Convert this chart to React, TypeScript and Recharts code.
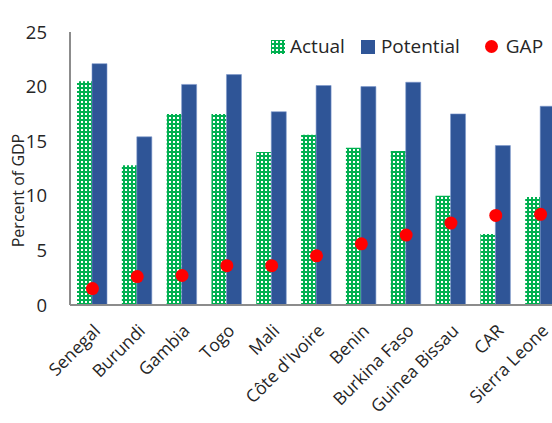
import React from 'react';
import { ComposedChart, Bar, Line, XAxis, YAxis } from 'recharts';

// Revenue collection: actual vs potential, in percent of GDP
const countries = [
  'Senegal', 'Burundi', 'Gambia', 'Togo', 'Mali', "Côte d'Ivoire",
  'Benin', 'Burkina Faso', 'Guinea Bissau', 'CAR', 'Sierra Leone',
];
const actual = [20.5, 12.8, 17.5, 17.5, 14.0, 15.6, 14.4, 14.1, 10.0, 6.5, 9.9];
const potential = [22.1, 15.4, 20.2, 21.1, 17.7, 20.1, 20.0, 20.4, 17.5, 14.6, 18.2];
const gap = [1.5, 2.6, 2.7, 3.6, 3.6, 4.5, 5.6, 6.4, 7.5, 8.2, 8.3];
const yTicks = [0, 5, 10, 15, 20, 25];

const data = countries.map((name, i) => ({
  name,
  Actual: actual[i],
  Potential: potential[i],
  GAP: gap[i],
}));

const FONT = '"Open Sans", "Noto Sans", sans-serif';
const TEXT = '#262626';
const GREEN = '#00B050';
const BLUE = '#2F5597';
const RED = '#FF0000';
const AXIS = '#8c8c8c';

const CountryTick = (props: any) => {
  const { x, y, payload } = props;
  return (
    <g transform={`translate(${x},${y})`}>
      <text
        textAnchor="end"
        transform="rotate(-45)"
        dy="0.72em"
        fill={TEXT}
        fontSize={17.5}
        fontFamily={FONT}
      >
        {payload.value}
      </text>
    </g>
  );
};

const YTitle = (props: any) => {
  const { viewBox } = props;
  const cx = 18;
  const cy = viewBox.y + viewBox.height / 2 + 22;
  return (
    <text
      x={cx}
      y={cy}
      transform={`rotate(-90, ${cx}, ${cy})`}
      textAnchor="middle"
      dominantBaseline="central"
      fill={TEXT}
      fontSize={16}
      fontFamily={FONT}
    >
      Percent of GDP
    </text>
  );
};

const DotPatternSwatch = () => (
  <svg width={14} height={14} style={{ display: 'block' }}>
    <defs>
      <pattern id="actualDotsLegend" width={4} height={4} patternUnits="userSpaceOnUse">
        <rect width={4} height={4} fill={GREEN} />
        <rect x={1} y={1} width={2} height={2} fill="#fff" />
      </pattern>
    </defs>
    <rect width={14} height={14} fill="url(#actualDotsLegend)" />
  </svg>
);

const LegendBox = () => (
  <div
    style={{
      position: 'absolute',
      left: 271,
      top: 37,
      display: 'flex',
      alignItems: 'center',
      fontFamily: FONT,
      fontSize: 19,
      color: TEXT,
      lineHeight: 1,
      whiteSpace: 'nowrap',
    }}
  >
    <DotPatternSwatch />
    <span style={{ marginLeft: 5, marginRight: 16 }}>Actual</span>
    <span style={{ width: 14, height: 14, background: BLUE, display: 'block' }} />
    <span style={{ marginLeft: 6, marginRight: 25 }}>Potential</span>
    <span
      style={{ width: 13, height: 13, borderRadius: '50%', background: RED, display: 'block' }}
    />
    <span style={{ marginLeft: 8 }}>GAP</span>
  </div>
);

export default function App() {
  return (
    <div
      style={{
        position: 'absolute',
        left: 0,
        top: 0,
        width: 552,
        height: 423,
        overflow: 'hidden',
        background: '#fff',
      }}
    >
      <ComposedChart
        width={600}
        height={423}
        data={data}
        margin={{ top: 32, right: 37, bottom: 0, left: 0 }}
        barGap={0}
      >
        <defs>
          <pattern id="actualDots" width={4} height={4} patternUnits="userSpaceOnUse">
            <rect width={4} height={4} fill={GREEN} />
            <rect x={1} y={1} width={2} height={2} fill="#fff" />
          </pattern>
        </defs>
        <XAxis
          dataKey="name"
          interval={0}
          height={118}
          tickLine={false}
          tickSize={0}
          tickMargin={18}
          axisLine={{ stroke: AXIS, strokeWidth: 2 }}
          tick={<CountryTick />}
        />
        <YAxis
          width={70}
          domain={[0, 25]}
          ticks={yTicks}
          interval={0}
          tickLine={false}
          tickSize={0}
          tickMargin={23}
          axisLine={{ stroke: AXIS, strokeWidth: 2 }}
          tick={{ fill: TEXT, fontSize: 18.5, fontFamily: FONT }}
          label={<YTitle />}
        />
        <Bar
          dataKey="Actual"
          fill="url(#actualDots)"
          barSize={15}
          isAnimationActive={false}
        />
        <Bar
          dataKey="Potential"
          fill={BLUE}
          stroke="#7d98cc"
          strokeWidth={0.6}
          barSize={15}
          isAnimationActive={false}
        />
        <Line
          dataKey="GAP"
          stroke="none"
          dot={{ r: 6.5, fill: RED, stroke: 'none' }}
          activeDot={false}
          isAnimationActive={false}
        />
      </ComposedChart>
      <LegendBox />
    </div>
  );
}
